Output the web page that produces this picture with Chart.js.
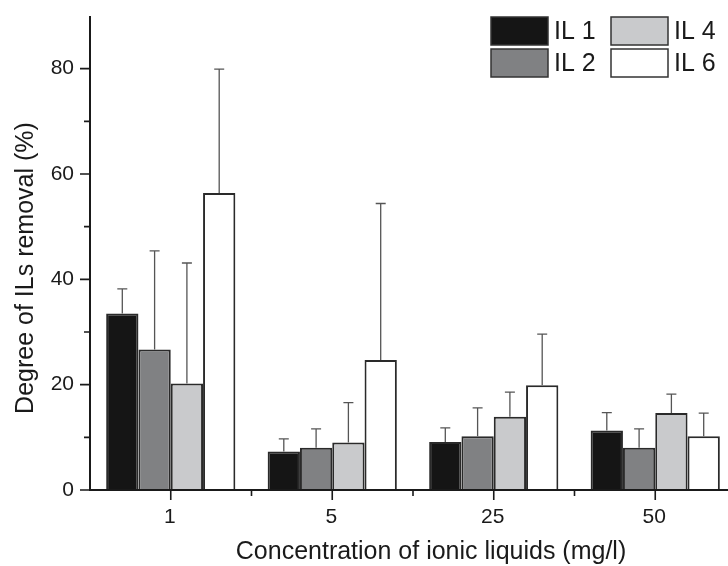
<!DOCTYPE html>
<html><head><meta charset="utf-8">
<script src="https://cdn.jsdelivr.net/npm/chart.js@4.4.1/dist/chart.umd.min.js"></script>
<style>
html,body{margin:0;padding:0;background:#fff;overflow:hidden;width:728px;height:566px;}
#wrap{position:absolute;left:0;top:0;width:736px;height:566px;}
</style></head><body><div id="wrap"><canvas id="c"></canvas></div>
<script>
const categories = ['1', '5', '25', '50'];
const seriesNames = ['IL 1', 'IL 2', 'IL 4', 'IL 6'];
const il1 = [33.5, 7.3, 9.1, 11.3];
const il1Err = [4.7, 2.4, 2.7, 3.4];
const il2 = [26.7, 8.0, 10.2, 8.0];
const il2Err = [18.7, 3.6, 5.4, 3.6];
const il4 = [20.2, 9.0, 13.9, 14.6];
const il4Err = [22.9, 7.6, 4.7, 3.6];
const il6 = [56.4, 24.7, 19.9, 10.2];
const il6Err = [23.5, 29.7, 9.7, 4.4];
const yTicks = [0, 20, 40, 60, 80];
const yMinorTicks = [10, 30, 50, 70];
const yMax = 90;
const xTitle = 'Concentration of ionic liquids (mg/l)';
const yTitle = 'Degree of ILs removal (%)';

const fillColors = ['#151515', '#808183', '#c9cacc', '#ffffff'];
const values = [il1, il2, il4, il6];
const errors = [il1Err, il2Err, il4Err, il6Err];
const FONT = '"Liberation Sans", Arial, sans-serif';
const TXT = '#1a1a1a';
Chart.defaults.font.family = FONT;

const extras = {
  id: 'extras',
  afterDatasetsDraw(chart) {
    const ctx = chart.ctx, ys = chart.scales.y;
    ctx.save();
    ctx.strokeStyle = '#555';
    ctx.lineWidth = 1.3;
    chart.data.datasets.forEach((ds, i) => {
      const meta = chart.getDatasetMeta(i);
      meta.data.forEach((el, j) => {
        const top = ys.getPixelForValue(ds.data[j] + errors[i][j]);
        ctx.beginPath();
        ctx.moveTo(el.x, el.y);
        ctx.lineTo(el.x, top);
        ctx.moveTo(el.x - 5, top);
        ctx.lineTo(el.x + 5, top);
        ctx.stroke();
      });
    });
    ctx.restore();
  },
  afterDraw(chart) {
    const ctx = chart.ctx, xs = chart.scales.x, ys = chart.scales.y, a = chart.chartArea;
    ctx.save();
    ctx.strokeStyle = TXT;
    ctx.lineWidth = 2;
    ctx.beginPath();
    ctx.moveTo(a.left, a.top);
    ctx.lineTo(a.left, a.bottom + 1);
    ctx.moveTo(a.left - 1, a.bottom);
    ctx.lineTo(a.right, a.bottom);
    ctx.stroke();
    ctx.lineWidth = 1.6;
    ctx.beginPath();
    yTicks.forEach(v => { const y = ys.getPixelForValue(v); ctx.moveTo(a.left - 10, y); ctx.lineTo(a.left, y); });
    yMinorTicks.forEach(v => { const y = ys.getPixelForValue(v); ctx.moveTo(a.left - 6, y); ctx.lineTo(a.left, y); });
    const n = categories.length;
    const step = (xs.right - xs.left) / n;
    categories.forEach((c, i) => {
      const x = xs.getPixelForValue(i);
      ctx.moveTo(x, a.bottom); ctx.lineTo(x, a.bottom + 10);
      if (i < n - 1) { ctx.moveTo(x + step / 2, a.bottom); ctx.lineTo(x + step / 2, a.bottom + 6); }
    });
    ctx.stroke();
    ctx.fillStyle = TXT;
    ctx.font = '21px ' + FONT;
    ctx.textAlign = 'center';
    ctx.textBaseline = 'alphabetic';
    categories.forEach((c, i) => {
      ctx.fillText(c, xs.getPixelForValue(i) - 1, 523);
    });
    ctx.font = '25px ' + FONT;
    ctx.fillText(xTitle, 431, 559);
    ctx.save();
    ctx.translate(33, 268);
    ctx.rotate(-Math.PI / 2);
    ctx.fillText(yTitle, 0, 0);
    ctx.restore();
    const cols = [0, 0, 1, 1], rows = [0, 1, 0, 1];
    ctx.textAlign = 'left';
    ctx.textBaseline = 'middle';
    chart.data.datasets.forEach((ds, i) => {
      const bx = 491 + cols[i] * 120, by = 17 + rows[i] * 32;
      ctx.fillStyle = ds.backgroundColor;
      ctx.fillRect(bx, by, 57, 28);
      ctx.strokeStyle = '#333';
      ctx.lineWidth = 1.5;
      ctx.strokeRect(bx, by, 57, 28);
      ctx.fillStyle = TXT;
      ctx.fillText(ds.label, bx + 63, by + 15);
    });
    ctx.restore();
  }
};

new Chart(document.getElementById('c'), {
  type: 'bar',
  data: {
    labels: categories,
    datasets: seriesNames.map((name, i) => ({
      label: name,
      data: values[i],
      backgroundColor: fillColors[i],
      borderColor: '#2a2a2a',
      borderWidth: 2,
      borderSkipped: 'bottom',
      categoryPercentage: 0.8,
      barPercentage: 1.0
    }))
  },
  options: {
    responsive: true,
    maintainAspectRatio: false,
    animation: false,
    layout: { padding: { top: 16, left: 0, right: 0, bottom: 0 } },
    plugins: { legend: { display: false }, tooltip: { enabled: false } },
    scales: {
      x: {
        grid: { display: false },
        border: { display: false },
        ticks: { display: false },
        afterFit(s) { s.height = 76; s.paddingLeft = 0; s.paddingRight = 0; }
      },
      y: {
        min: 0, max: yMax,
        grid: { display: false },
        border: { display: false },
        afterBuildTicks(s) { s.ticks = yTicks.map(v => ({ value: v })); },
        ticks: { font: { size: 21 }, color: TXT, padding: 8 },
        afterFit(s) { s.width = 90; s.paddingTop = 0; s.paddingBottom = 0; }
      }
    }
  },
  plugins: [extras]
});
</script></body></html>
